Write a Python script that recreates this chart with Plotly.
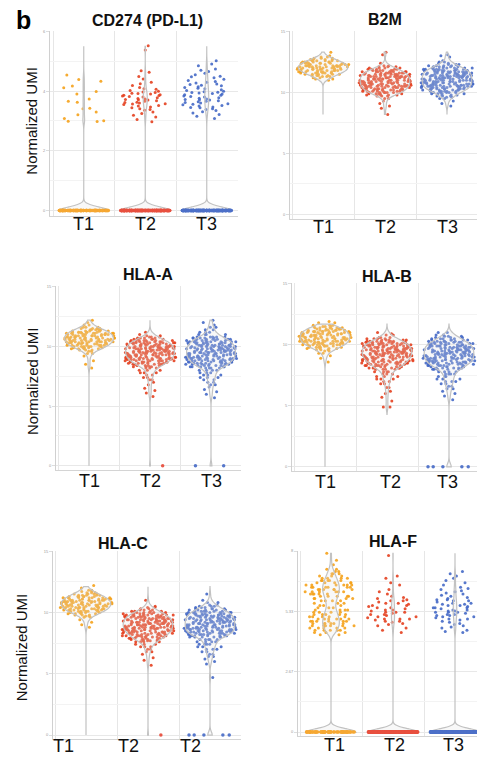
import plotly.graph_objects as go

W, H = 477, 758

# ---------------- data ----------------
groups = ["T1", "T2", "T3"]
point_colors = ["#f5a21b", "#e4401f", "#4569c6"]
zero_colors = ["#f5a833", "#e8503f", "#4d70c8"]

# CD274 (PD-L1): individual non-zero cells + number of zero cells
cd274_t1 = [4.54, 4.39, 4.33, 4.17, 4.11, 3.99, 3.90, 3.74, 3.66, 3.63, 3.43, 3.41, 3.30, 3.21, 3.08, 3.01, 2.99, 2.98]
cd274_t2 = [5.52, 5.38, 4.68, 4.63, 4.49, 4.41, 4.30, 4.25, 4.19, 4.12, 4.08, 4.06, 4.02, 4.00, 3.97, 3.95, 3.93,
            3.92, 3.90, 3.88, 3.86, 3.85, 3.84, 3.82, 3.80, 3.78, 3.75, 3.74, 3.72, 3.71, 3.70, 3.68, 3.66, 3.63,
            3.62, 3.60, 3.58, 3.57, 3.55, 3.52, 3.50, 3.47, 3.44, 3.41, 3.38, 3.36, 3.30, 3.25, 3.19, 3.13, 3.05, 2.97]
cd274_t3 = [5.02, 4.91, 4.85, 4.74, 4.70, 4.66, 4.60, 4.55, 4.50, 4.48, 4.45, 4.40, 4.36, 4.32, 4.30, 4.27, 4.24,
            4.22, 4.20, 4.18, 4.15, 4.12, 4.10, 4.08, 4.05, 4.02, 4.00, 3.98, 3.96, 3.95, 3.94, 3.92, 3.90, 3.88,
            3.86, 3.84, 3.82, 3.80, 3.78, 3.76, 3.74, 3.72, 3.71, 3.70, 3.68, 3.66, 3.64, 3.62, 3.60, 3.58, 3.56,
            3.54, 3.52, 3.50, 3.47, 3.45, 3.44, 3.41, 3.38, 3.35, 3.31, 3.27, 3.22, 3.16, 3.08]
cd274_zero_counts = [120, 200, 200]

# B2M: value levels and how many cells sit at each level
b2m_t1_levels = [13.3, 13.0, 12.9, 12.8, 12.7, 12.6, 12.5, 12.4, 12.3, 12.2, 12.1, 12.0, 11.9, 11.8, 11.7, 11.6,
                 11.5, 11.4, 11.3, 11.2, 11.1, 11.0]
b2m_t1_counts = [1, 1, 2, 3, 4, 5, 6, 7, 7, 8, 8, 8, 8, 7, 7, 6, 5, 4, 3, 2, 2, 1]
b2m_t2_levels = [13.3, 13.1, 12.4, 12.2, 12.1, 12.0, 11.9, 11.8, 11.7, 11.6, 11.5, 11.4, 11.3, 11.2, 11.1, 11.0,
                 10.9, 10.8, 10.7, 10.6, 10.5, 10.4, 10.3, 10.2, 10.1, 10.0, 9.9, 9.8, 9.7, 9.5, 9.3, 9.1, 8.9, 8.7, 8.2]
b2m_t2_counts = [1, 1, 1, 2, 3, 4, 5, 6, 7, 8, 8, 9, 9, 9, 9, 9, 9, 9, 9, 9, 9, 8, 8, 8, 7, 6, 5, 4, 3,
                 2, 1, 1, 1, 1, 1]
b2m_t3_levels = [13.1, 13.0, 12.9, 12.6, 12.5, 12.4, 12.3, 12.2, 12.1, 12.0, 11.9, 11.8, 11.7, 11.6, 11.5, 11.4,
                 11.3, 11.2, 11.1, 11.0, 10.9, 10.8, 10.7, 10.6, 10.5, 10.4, 10.3, 10.2, 10.1, 10.0, 9.9, 9.8,
                 9.7, 9.6, 9.5, 9.3, 9.1, 8.9]
b2m_t3_counts = [1, 1, 1, 1, 2, 2, 3, 4, 5, 6, 7, 8, 8, 9, 9, 9, 9, 9, 9, 9, 9, 9, 9, 9, 9, 8, 8, 7, 6, 5,
                 4, 3, 3, 2, 2, 1, 1, 1]

# HLA-A
hla_a_t1_levels = [12.2, 12.0, 11.8, 11.6, 11.5, 11.4, 11.3, 11.2, 11.1, 11.0, 10.9, 10.8, 10.7, 10.6, 10.5, 10.4,
                   10.3, 10.2, 10.1, 10.0, 9.9, 9.8, 9.7, 9.6, 9.4, 9.2, 8.8, 8.5, 8.2]
hla_a_t1_counts = [1, 1, 2, 3, 4, 5, 6, 7, 8, 8, 8, 8, 8, 8, 8, 8, 8, 7, 7, 6, 5, 4, 3, 2, 2, 1, 1, 1, 1]
hla_a_t2_levels = [11.2, 11.0, 10.9, 10.8, 10.7, 10.6, 10.5, 10.4, 10.3, 10.2, 10.1, 10.0, 9.9, 9.8, 9.7, 9.6,
                   9.5, 9.4, 9.3, 9.2, 9.1, 9.0, 8.9, 8.8, 8.7, 8.6, 8.5, 8.4, 8.3, 8.2, 8.0, 7.8, 7.6, 7.4,
                   7.2, 7.0, 6.8, 6.5, 6.3, 6.1, 5.8, 0.0]
hla_a_t2_counts = [1, 1, 2, 3, 4, 5, 6, 7, 8, 8, 8, 9, 9, 9, 9, 9, 9, 9, 9, 9, 9, 8, 8, 8, 7, 6, 5, 4, 4,
                   3, 3, 3, 2, 2, 2, 1, 1, 1, 1, 1, 1, 1]
hla_a_t3_levels = [12.2, 12.0, 11.8, 11.6, 11.4, 11.2, 11.0, 10.8, 10.7, 10.6, 10.5, 10.4, 10.3, 10.2, 10.1, 10.0,
                   9.9, 9.8, 9.7, 9.6, 9.5, 9.4, 9.3, 9.2, 9.1, 9.0, 8.9, 8.8, 8.7, 8.6, 8.5, 8.4, 8.3, 8.2,
                   8.0, 7.8, 7.6, 7.4, 7.2, 7.0, 6.8, 6.6, 6.4, 6.2, 6.0, 5.7, 0.0]
hla_a_t3_counts = [1, 1, 1, 2, 2, 3, 4, 5, 5, 6, 6, 7, 7, 7, 8, 8, 8, 8, 8, 8, 8, 8, 8, 8, 8, 8, 7, 7, 7, 6, 6,
                   5, 5, 4, 4, 3, 3, 3, 2, 2, 2, 1, 1, 1, 1, 1, 2]

# HLA-B
hla_b_t1_levels = [11.9, 11.8, 11.6, 11.5, 11.4, 11.3, 11.2, 11.1, 11.0, 10.9, 10.8, 10.7, 10.6, 10.5, 10.4, 10.3,
                   10.2, 10.1, 10.0, 9.9, 9.8, 9.7, 9.6, 9.5, 9.3, 9.1, 8.9, 8.6]
hla_b_t1_counts = [1, 2, 3, 4, 5, 6, 7, 8, 8, 8, 8, 8, 8, 8, 8, 8, 8, 7, 7, 6, 5, 4, 3, 2, 2, 1, 1, 1]
hla_b_t2_levels = [11.0, 10.9, 10.8, 10.6, 10.5, 10.4, 10.3, 10.2, 10.1, 10.0, 9.9, 9.8, 9.7, 9.6, 9.5, 9.4,
                   9.3, 9.2, 9.1, 9.0, 8.9, 8.8, 8.7, 8.6, 8.5, 8.4, 8.3, 8.2, 8.1, 8.0, 7.8, 7.6, 7.4, 7.2,
                   7.0, 6.8, 6.5, 6.2, 6.0, 5.7, 5.4, 4.9]
hla_b_t2_counts = [1, 1, 2, 3, 4, 5, 6, 7, 8, 8, 8, 9, 9, 9, 9, 9, 9, 9, 9, 9, 8, 8, 8, 7, 7, 6, 6, 5, 5,
                   4, 4, 3, 3, 3, 2, 2, 2, 1, 1, 1, 1, 2]
hla_b_t3_levels = [11.0, 10.8, 10.7, 10.6, 10.5, 10.4, 10.3, 10.2, 10.1, 10.0, 9.9, 9.8, 9.7, 9.6, 9.5, 9.4,
                   9.3, 9.2, 9.1, 9.0, 8.9, 8.8, 8.7, 8.6, 8.5, 8.4, 8.3, 8.2, 8.1, 8.0, 7.8, 7.6, 7.4, 7.2,
                   7.0, 6.8, 6.6, 6.4, 6.2, 6.0, 5.8, 5.5, 0.0]
hla_b_t3_counts = [2, 2, 3, 3, 4, 5, 5, 6, 7, 7, 8, 8, 8, 8, 8, 8, 8, 8, 8, 8, 8, 8, 8, 7, 7, 6, 6, 5, 5, 5, 4,
                   4, 3, 3, 3, 2, 2, 2, 1, 1, 1, 1, 5]

# HLA-C
hla_c_t1_levels = [12.2, 12.0, 11.8, 11.7, 11.6, 11.5, 11.4, 11.3, 11.2, 11.1, 11.0, 10.9, 10.8, 10.7, 10.6, 10.5,
                   10.4, 10.3, 10.2, 10.1, 10.0, 9.9, 9.8, 9.7, 9.6, 9.4, 9.2, 9.0, 8.8]
hla_c_t1_counts = [1, 1, 2, 2, 3, 4, 5, 6, 7, 8, 8, 8, 8, 8, 8, 8, 8, 8, 7, 6, 5, 4, 3, 2, 2, 1, 1, 1, 1]
hla_c_t2_levels = [11.0, 10.5, 10.4, 10.3, 10.2, 10.1, 10.0, 9.9, 9.8, 9.7, 9.6, 9.5, 9.4, 9.3, 9.2, 9.1, 9.0,
                   8.9, 8.8, 8.7, 8.6, 8.5, 8.4, 8.3, 8.2, 8.1, 8.0, 7.9, 7.8, 7.7, 7.6, 7.4, 7.2, 7.0, 6.8,
                   6.6, 6.3, 6.1, 5.7, 0.0]
hla_c_t2_counts = [1, 1, 2, 2, 3, 4, 5, 6, 7, 8, 8, 8, 9, 9, 9, 9, 9, 9, 9, 9, 9, 8, 8, 8, 7, 7, 6, 5, 5,
                   4, 4, 3, 3, 2, 2, 1, 1, 1, 1, 1]
hla_c_t3_levels = [11.5, 11.0, 10.8, 10.6, 10.5, 10.4, 10.3, 10.2, 10.1, 10.0, 9.9, 9.8, 9.7, 9.6, 9.5, 9.4,
                   9.3, 9.2, 9.1, 9.0, 8.9, 8.8, 8.7, 8.6, 8.5, 8.4, 8.3, 8.2, 8.1, 8.0, 7.8, 7.6, 7.4, 7.2,
                   7.0, 6.8, 6.6, 6.4, 6.2, 6.0, 5.8, 4.7, 0.0]
hla_c_t3_counts = [1, 1, 2, 2, 3, 3, 4, 5, 6, 6, 7, 7, 8, 8, 8, 8, 8, 8, 8, 8, 8, 8, 8, 8, 8, 8, 7, 7, 6, 6, 5,
                   4, 4, 3, 3, 2, 2, 2, 1, 1, 1, 1, 5]

# HLA-F
hla_f_t1_levels = [7.9, 7.6, 7.4, 7.2, 7.1, 7.0, 6.9, 6.8, 6.7, 6.6, 6.5, 6.4, 6.3, 6.2, 6.1, 6.0, 5.9, 5.8, 5.7,
                   5.6, 5.5, 5.4, 5.3, 5.2, 5.1, 5.0, 4.9, 4.8, 4.7, 4.6, 4.5, 4.4, 4.3]
hla_f_t1_counts = [1, 1, 1, 2, 2, 3, 3, 4, 5, 5, 6, 6, 6, 6, 5, 5, 4, 4, 3, 3, 3, 4, 4, 5, 5, 6, 6, 6, 6, 5, 5, 3, 2]
hla_f_t2 = [7.80, 6.90, 6.80, 6.60, 6.50, 6.30, 6.20, 6.10, 6.00, 5.95, 5.90, 5.85, 5.80, 5.80, 5.75, 5.70, 5.70,
            5.65, 5.60, 5.60, 5.55, 5.50, 5.50, 5.45, 5.40, 5.40, 5.35, 5.30, 5.30, 5.30, 5.25, 5.20, 5.20, 5.15,
            5.10, 5.10, 5.05, 5.00, 5.00, 5.00, 4.95, 4.90, 4.90, 4.85, 4.80, 4.75, 4.70, 4.60, 4.50, 4.40]
hla_f_t3 = [7.10, 7.00, 6.90, 6.80, 6.70, 6.60, 6.50, 6.40, 6.35, 6.30, 6.25, 6.20, 6.15, 6.10, 6.05, 6.00, 5.95,
            5.90, 5.85, 5.85, 5.80, 5.80, 5.75, 5.70, 5.70, 5.65, 5.65, 5.60, 5.60, 5.55, 5.50, 5.50, 5.50, 5.45,
            5.40, 5.40, 5.35, 5.35, 5.30, 5.30, 5.30, 5.25, 5.20, 5.20, 5.15, 5.15, 5.10, 5.10, 5.05, 5.00, 5.00,
            4.95, 4.90, 4.85, 4.80, 4.75, 4.70, 4.65, 4.60, 4.50, 4.45, 4.40]
hla_f_zero_counts = [65, 200, 200]


def expand(levels, counts):
    out = []
    for v, c in zip(levels, counts):
        out.extend([v] * c)
    return out


def with_zeros(values, nzero):
    return list(values) + [0.0] * nzero


# ---------------- panels ----------------
# geo = (y-axis line px, first category edge px, right edge px, category width px,
#        top value px, zero px, x-axis line px)
panels = [
    dict(title="CD274 (PD-L1)", tx=147, ty=19,
         data=[with_zeros(cd274_t1, cd274_zero_counts[0]), with_zeros(cd274_t2, cd274_zero_counts[1]),
               with_zeros(cd274_t3, cd274_zero_counts[2])],
         spans=[[0, 5.5]] * 3, bw=0.12,
         geo=(50, 53, 238, 61.5, 29, 209, 215), top=6,
         ticks=[0, 2, 4, 6], tlabels=["0", "2", "4", "6"], minor=[1, 3, 5],
         xt=[0, 1, 2], xl=["T1", "T2", "T3"], xly=223, ylab=(32, 119)),
    dict(title="B2M", tx=385, ty=18,
         data=[expand(b2m_t1_levels, b2m_t1_counts), expand(b2m_t2_levels, b2m_t2_counts),
               expand(b2m_t3_levels, b2m_t3_counts)],
         spans=[[8.2, 13.3]] * 3, bw=0.22,
         geo=(290, 292, 477, 62, 29, 213, 218), top=15,
         ticks=[0, 5, 10, 15], tlabels=["0", "5", "10", "15"], minor=[2.5, 7.5, 12.5],
         xt=[0, 1, 2], xl=["T1", "T2", "T3"], xly=226, ylab=None),
    dict(title="HLA-A", tx=148, ty=273,
         data=[expand(hla_a_t1_levels, hla_a_t1_counts), expand(hla_a_t2_levels, hla_a_t2_counts),
               expand(hla_a_t3_levels, hla_a_t3_counts)],
         spans=[[0, 12.2]] * 3, bw=0.28,
         geo=(56, 58.5, 241, 61, 285, 465, 469), top=15,
         ticks=[0, 5, 10, 15], tlabels=["0", "5", "10", "15"], minor=[2.5, 7.5, 12.5],
         xt=[0, 1, 2], xl=["T1", "T2", "T3"], xly=480, ylab=(33, 380)),
    dict(title="HLA-B", tx=387, ty=275,
         data=[expand(hla_b_t1_levels, hla_b_t1_counts), expand(hla_b_t2_levels, hla_b_t2_counts),
               expand(hla_b_t3_levels, hla_b_t3_counts)],
         spans=[[0, 11.7], [4.3, 11.7], [0, 11.7]], bw=0.28,
         geo=(292, 294, 477, 62, 282, 466, 470), top=15,
         ticks=[0, 5, 10, 15], tlabels=["0", "5", "10", "15"], minor=[2.5, 7.5, 12.5],
         xt=[0, 1.05, 1.98], xl=["T1", "T2", "T3"], xly=481, ylab=None),
    dict(title="HLA-C", tx=123, ty=543,
         data=[expand(hla_c_t1_levels, hla_c_t1_counts), expand(hla_c_t2_levels, hla_c_t2_counts),
               expand(hla_c_t3_levels, hla_c_t3_counts)],
         spans=[[0, 12.1]] * 3, bw=0.28,
         geo=(53, 55, 241, 62, 550, 735, 739), top=15,
         ticks=[0, 5, 10, 15], tlabels=["0", "5", "10", "15"], minor=[2.5, 7.5, 12.5],
         xt=[-0.37, 0.68, 1.68], xl=["T1", "T2", "T2"], xly=746, ylab=(21, 647)),
    dict(title="HLA-F", tx=393, ty=541,
         data=[with_zeros(expand(hla_f_t1_levels, hla_f_t1_counts), hla_f_zero_counts[0]),
               with_zeros(hla_f_t2, hla_f_zero_counts[1]), with_zeros(hla_f_t3, hla_f_zero_counts[2])],
         spans=[[0, 7.9]] * 3, bw=0.15,
         geo=(298, 300, 477, 62, 550, 732, 736), top=8,
         ticks=[0, 2.67, 5.33, 8], tlabels=["0", "2.67", "5.33", "8"], minor=[1.33, 4, 6.67],
         xt=[0.05, 1.03, 1.97], xl=["T1", "T2", "T3"], xly=745, ylab=None),
]

FONT = "Liberation Sans, Arial, Helvetica, sans-serif"
fig = go.Figure()
layout = dict(width=W, height=H, margin=dict(l=0, r=0, t=0, b=0), autosize=False,
              paper_bgcolor="white", plot_bgcolor="white", showlegend=False,
              violinmode="overlay", boxmode="overlay", hovermode=False,
              font=dict(family=FONT, color="#111"))
annotations = []

for k, p in enumerate(panels, start=1):
    xa = "x" if k == 1 else f"x{k}"
    ya = "y" if k == 1 else f"y{k}"
    axis_left, grid_left, right, catw, top_px, zero_px, bottom_px = p["geo"]
    scale = (zero_px - top_px) / p["top"]
    yrange = [-(bottom_px - zero_px) / scale, p["top"] * 1.003]
    xrange = [-0.5 - (grid_left - axis_left) / catw, -0.5 + (right - grid_left) / catw]

    layout["xaxis" if k == 1 else f"xaxis{k}"] = dict(
        domain=[axis_left / W, min(right / W, 1.0)], range=xrange, anchor=ya,
        showticklabels=False, ticks="",
        showgrid=False, zeroline=False, showline=True, linecolor="#d4d4d4", linewidth=1,
        minor=dict(tickmode="array", tickvals=[-0.5, 0.5, 1.5, 2.5], showgrid=True,
                   gridcolor="#e6e6e6", gridwidth=1, ticks=""),
        fixedrange=True)
    layout["yaxis" if k == 1 else f"yaxis{k}"] = dict(
        domain=[1 - bottom_px / H, 1 - top_px / H], range=yrange, anchor=xa,
        tickmode="array", tickvals=p["ticks"], ticktext=p["tlabels"],
        ticks="outside", ticklen=3, tickcolor="#dddddd",
        showgrid=True, gridcolor="#e8e8e8", gridwidth=1, zeroline=False,
        showline=True, linecolor="#d0d0d0", linewidth=1,
        tickfont=dict(size=4, color="#9a9a9a", family=FONT),
        minor=dict(tickmode="array", tickvals=p["minor"], showgrid=True,
                   gridcolor="#f3f3f3", gridwidth=1, ticks=""),
        fixedrange=True)

    for g, vals in enumerate(p["data"]):
        nonzero = [v for v in vals if v > 0]
        zeros = [v for v in vals if v == 0]
        # jittered non-zero cells (under the violin outline)
        fig.add_trace(go.Violin(
            y=nonzero, x0=g, name=groups[g], points="all", jitter=1, pointpos=0, width=0.84,
            fillcolor="rgba(0,0,0,0)", line=dict(width=0), spanmode="hard",
            marker=dict(size=3, color=point_colors[g], opacity=0.9, line=dict(width=0)),
            xaxis=xa, yaxis=ya, showlegend=False))
        # violin outline computed from all cells
        fig.add_trace(go.Violin(
            y=vals, x0=g, name=groups[g], points=False, width=0.8, scalemode="width",
            spanmode="manual", span=p["spans"][g], bandwidth=p["bw"], side="both",
            fillcolor="rgba(228,228,228,0.25)", line=dict(color="#c2c2c2", width=1.2),
            box_visible=False, meanline_visible=False,
            xaxis=xa, yaxis=ya, showlegend=False))
        # zero cells drawn on top
        if zeros:
            fig.add_trace(go.Box(
                y=zeros, x0=g, name=groups[g], boxpoints="all", jitter=1, pointpos=0, width=0.8,
                fillcolor="rgba(0,0,0,0)", line=dict(width=0),
                marker=dict(size=3.5, color=zero_colors[g], opacity=0.95, line=dict(width=0)),
                xaxis=xa, yaxis=ya, showlegend=False))

    # category labels placed on the category axis
    for xv, lab in zip(p["xt"], p["xl"]):
        annotations.append(dict(text=lab, x=xv, xref=xa, y=1 - p["xly"] / H, yref="paper",
                                xanchor="center", yanchor="middle", showarrow=False,
                                font=dict(size=18, color="#111", family=FONT)))
    annotations.append(dict(text=f"<b>{p['title']}</b>", x=p["tx"] / W, y=1 - p["ty"] / H,
                            xref="paper", yref="paper", xanchor="center", yanchor="middle",
                            showarrow=False, font=dict(size=16, color="#111", family=FONT)))
    if p["ylab"]:
        annotations.append(dict(text="Normalized UMI", x=p["ylab"][0] / W, y=1 - p["ylab"][1] / H,
                                xref="paper", yref="paper", xanchor="center", yanchor="middle",
                                textangle=-90, showarrow=False,
                                font=dict(size=15, color="#111", family=FONT)))

annotations.append(dict(text="<b>b</b>", x=23 / W, y=1 - 18 / H, xref="paper", yref="paper",
                        xanchor="center", yanchor="middle", showarrow=False,
                        font=dict(size=25, color="#000", family=FONT)))
layout["annotations"] = annotations
fig.update_layout(**layout)
fig.write_html("out.html", config={"displayModeBar": False},
               post_script="document.body.style.margin='0px';document.body.style.overflow='hidden';")
